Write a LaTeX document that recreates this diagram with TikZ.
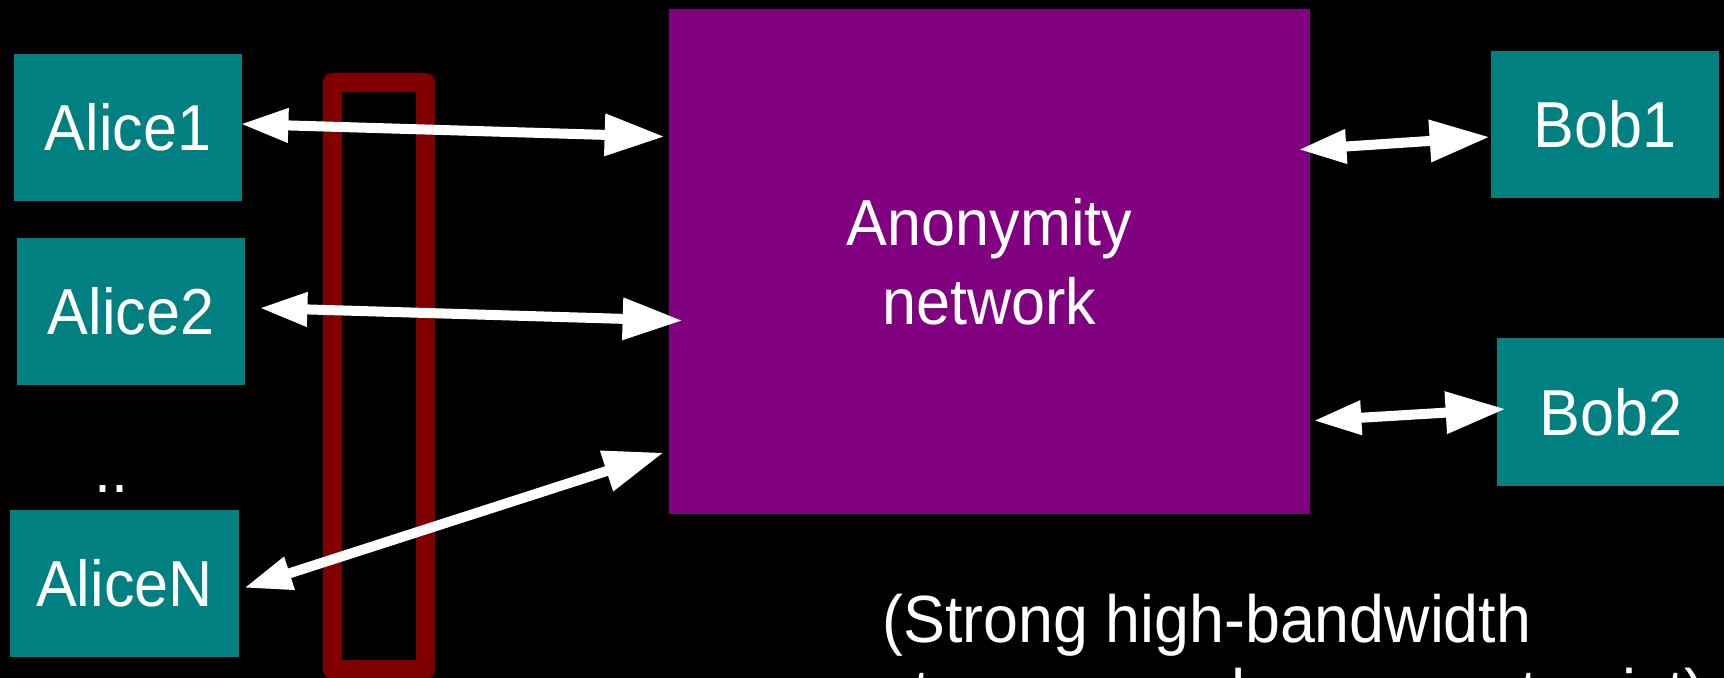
\documentclass[tikz,border=0pt]{standalone}
\usepackage{fontspec}
\setmainfont{Liberation Sans}[FakeStretch=0.94]
\usepackage{xcolor}
\usepackage{tikz}
\usetikzlibrary{arrows.meta, calc}

\definecolor{boxteal}{RGB}{0,128,128}
\definecolor{netpurple}{RGB}{128,0,128}
\definecolor{wallred}{RGB}{128,0,0}

\tikzset{
    party/.style={fill=boxteal, text=white, minimum width=45.6mm, minimum height=29.4mm, inner sep=0pt},
    biarrow/.style={draw=white, line width=2mm,
        {Triangle[length=9.6mm, width=6.4mm]}-{Triangle[length=12mm, width=8mm]}}
}

\begin{document}
\begin{tikzpicture}[x=0.2mm, y=-0.2mm, font=\fontsize{37}{45}\selectfont]
        \useasboundingbox (0,0) rectangle (1724,678);
        \fill[black] (0,0) rectangle (1724,678);
        \clip (0,0) rectangle (1724,678);
        % senders
        \node[party] (alice1) at (128,127.5) {Alice1};
        \node[party] (alice2) at (131,311.5) {Alice2};
        \node[text=white, anchor=base, inner sep=0pt] (dots) at (111,492) {..};
        \node[party] (aliceN) at (124.5,583) {AliceN};
        % receivers
        \node[party] (bob1) at (1605,124.5) {Bob1};
        \node[party] (bob2) at (1611,412) {Bob2};
        % network
        \node[fill=netpurple, text=white, minimum width=128.2mm, minimum height=101mm,
            inner sep=0pt, align=center] (anon) at (989.5,261.5) {Anonymity\\network};
        % watched links
        \draw[wallred, line width=3.8mm, line join=round] (332.5,82.5) rectangle (425.5,669.5);
        \node[text=white, anchor=north west, align=left, inner sep=0pt,
            font=\fontsize{38}{42}\selectfont] (note) at (882,594)
            {(Strong high-bandwidth\\steganography may not exist)};
        % links
        \draw[biarrow] ($(alice1.east)+(-2,-3.5)$) -- ($(anon.north west)+(-4,128)$);
        \draw[biarrow] ($(alice2.east)+(14,-3.5)$) -- ($(anon.north west)+(14,312)$);
        \draw[biarrow] ($(aliceN.east)+(5,5)$) -- ($(anon.north west)+(-5,444)$);
        \draw[biarrow] ($(anon.north east)+(-12,141)$) -- ($(bob1.west)+(-1,12.5)$);
        \draw[biarrow] ($(anon.north east)+(3,412)$) -- ($(bob2.west)+(9,-3)$);
\end{tikzpicture}
\end{document}
